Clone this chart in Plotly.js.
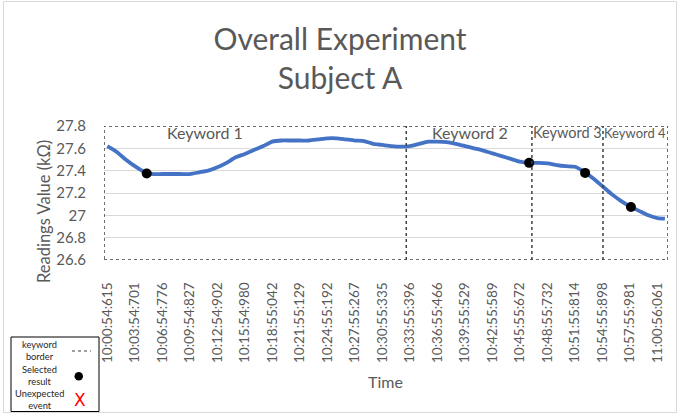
<!DOCTYPE html>
<html>
<head>
<meta charset="utf-8">
<script src="https://cdn.plot.ly/plotly-3.0.1.min.js"></script>
<style>html,body{margin:0;padding:0;background:#fff;}#chart{width:680px;height:415px;}</style>
</head>
<body>
<div id="chart"></div>
<script>
// ---- data (minutes elapsed since 10:00:54:615) ----
const elapsedMin = [0,1,2,3,4,5,6,7,8,9,10,11,12,13,14,15,16,17,18,19,20,21,22,23,24,25,26,27,28,29,30,31,32,33,34,35,36,37,38,39,40,41,42,43,44,45,46,47,48,49,50,51,52,53,54,55,56,57,58,59,60,60.8];
const readings = [27.62,27.57,27.50,27.44,27.39,27.37,27.37,27.37,27.37,27.37,27.385,27.40,27.43,27.47,27.52,27.55,27.585,27.62,27.66,27.67,27.67,27.67,27.67,27.68,27.69,27.69,27.68,27.67,27.665,27.64,27.63,27.62,27.615,27.62,27.64,27.66,27.66,27.656,27.64,27.62,27.60,27.58,27.555,27.53,27.505,27.48,27.47,27.47,27.465,27.45,27.44,27.435,27.39,27.33,27.26,27.19,27.13,27.08,27.04,27.00,26.975,26.97];
const selectedMin = [4.3, 46.0, 52.1, 57.1];
const selectedVal = [27.375, 27.47, 27.38, 27.075];
const keywordNames = ["Keyword 1","Keyword 2","Keyword 3","Keyword 4"];
const keywordLabelMin = [10.7, 39.6, 50.2, 57.5];
const keywordBorders = [-0.36, 32.6, 46.3, 54.05, 61.14];
const tickMinutes = [0,3,6,9,12,15,18,21,24,27,30,33,36,39,42,45,48,51,54,57,60];
const tickLabels = ["10:00:54:615","10:03:54:701","10:06:54:776","10:09:54:827","10:12:54:902","10:15:54:980","10:18:55:042","10:21:55:129","10:24:55:192","10:27:55:267","10:30:55:335","10:33:55:396","10:36:55:466","10:39:55:529","10:42:55:589","10:45:55:672","10:48:55:732","10:51:55:814","10:54:55:898","10:57:55:981","11:00:56:061"];
const yTicks = [26.6,26.8,27,27.2,27.4,27.6,27.8];
const yMin = 26.6, yMax = 27.8;
const legendTexts = ["keyword<br>border","Selected<br>result","Unexpected<br>event"];

// ---- styles ----
const FONT = "Lato, 'Open Sans', sans-serif";
const GRAY = "#595959";
const keywordFontSizes = [16,16,14.5,13];

const traces = [
  {x: elapsedMin, y: readings, type: 'scatter', mode: 'lines',
   line: {color: '#4472C4', width: 3.8, shape:'spline', smoothing:0.6}, hoverinfo: 'skip', showlegend: false},
  {x: selectedMin, y: selectedVal, type: 'scatter', mode: 'markers',
   marker: {color: '#000', size: 10}, hoverinfo: 'skip', showlegend: false}
];

const px = v => (v-104)/564;
const py = v => 1-(v-126)/134;

const shapes = [];
// outer chart border
shapes.push({type:'rect', xref:'paper', yref:'paper', x0:px(3.5), x1:px(676.5), y0:py(412.5), y1:py(1.5),
  line:{color:'#d9d9d9', width:1}, layer:'below'});
// keyword box
const bl = keywordBorders[0], br = keywordBorders[keywordBorders.length-1];
shapes.push({type:'rect', xref:'x', yref:'y', x0:bl, x1:br, y0:yMin, y1:yMax,
  line:{color:'#404040', width:1.5, dash:'dot'}});
for (let i = 1; i < keywordBorders.length-1; i++) {
  shapes.push({type:'line', xref:'x', yref:'y', x0:keywordBorders[i], x1:keywordBorders[i], y0:yMin, y1:yMax,
    line:{color:'#404040', width:1.5, dash:'dot'}});
}

const annotations = [];
keywordNames.forEach((k,i) => annotations.push({
  x: keywordLabelMin[i], y: 27.74, xref:'x', yref:'y', text:k, showarrow:false,
  xanchor:'center', yanchor:'middle', font:{family:FONT, size:keywordFontSizes[i], color:GRAY}
}));

// axis titles
annotations.push({xref:'paper', yref:'paper', x:px(44), y:py(212), text:'Readings Value (kΩ)',
  textangle:-90, showarrow:false, xanchor:'center', yanchor:'middle', font:{family:FONT, size:16.5, color:GRAY}});
annotations.push({xref:'paper', yref:'paper', x:px(385), y:py(381), text:'Time',
  showarrow:false, xanchor:'center', yanchor:'middle', font:{family:FONT, size:16, color:GRAY}});

// custom legend box
shapes.push({type:'rect', xref:'paper', yref:'paper', x0:px(11), x1:px(99), y0:py(411.5), y1:py(337),
  line:{color:'#000', width:1}, fillcolor:'#fff'});
shapes.push({type:'line', xref:'paper', yref:'paper', x0:px(72), x1:px(91), y0:py(351), y1:py(351),
  line:{color:'#404040', width:1.2, dash:'dot'}});
shapes.push({type:'circle', xref:'paper', yref:'paper', x0:px(74.5), x1:px(83), y0:py(380.5), y1:py(372),
  line:{color:'#000', width:0}, fillcolor:'#000'});
const legendRowY = [350, 375.5, 399.5];
legendTexts.forEach((t,i) => annotations.push({xref:'paper', yref:'paper',
  x:px(39), y:py(legendRowY[i]), text:t, showarrow:false, xanchor:'center', yanchor:'middle',
  borderpad:0, font:{family:FONT, size:9.3, color:'#262626'}}));
annotations.push({xref:'paper', yref:'paper', x:px(79.5), y:py(400), text:'X', showarrow:false,
  xanchor:'center', yanchor:'middle', font:{family:"'DejaVu Sans', sans-serif", size:17, color:'#ff0000'}});

const layout = {
  width: 680, height: 415,
  margin: {l:104, r:12, t:126, b:155},
  paper_bgcolor:'#fff', plot_bgcolor:'#fff',
  title: {text:'Overall Experiment<br>Subject A', x:340/680, xref:'container', xanchor:'center',
    y:1-50/415, yanchor:'top', font:{family:FONT, size:30, color:GRAY}},
  xaxis: {range:[bl, br], tickvals: tickMinutes, ticktext: tickLabels, tickangle:-90,
    ticks:'outside', ticklen:16, tickcolor:'rgba(0,0,0,0)', showgrid:false, zeroline:false,
    showline:false, tickfont:{family:FONT, size:13.5, color:GRAY}, fixedrange:true},
  yaxis: {range:[yMin, yMax], tickvals: yTicks, ticktext: yTicks.map(String),
    ticks:'outside', ticklen:14, tickcolor:'rgba(0,0,0,0)', showgrid:true, gridcolor:'#d9d9d9', gridwidth:1,
    zeroline:false, showline:false, tickfont:{family:FONT, size:15, color:GRAY}, fixedrange:true},
  shapes, annotations, showlegend:false
};

Plotly.newPlot('chart', traces, layout, {displayModeBar:false, staticPlot:true});
</script>
</body>
</html>
